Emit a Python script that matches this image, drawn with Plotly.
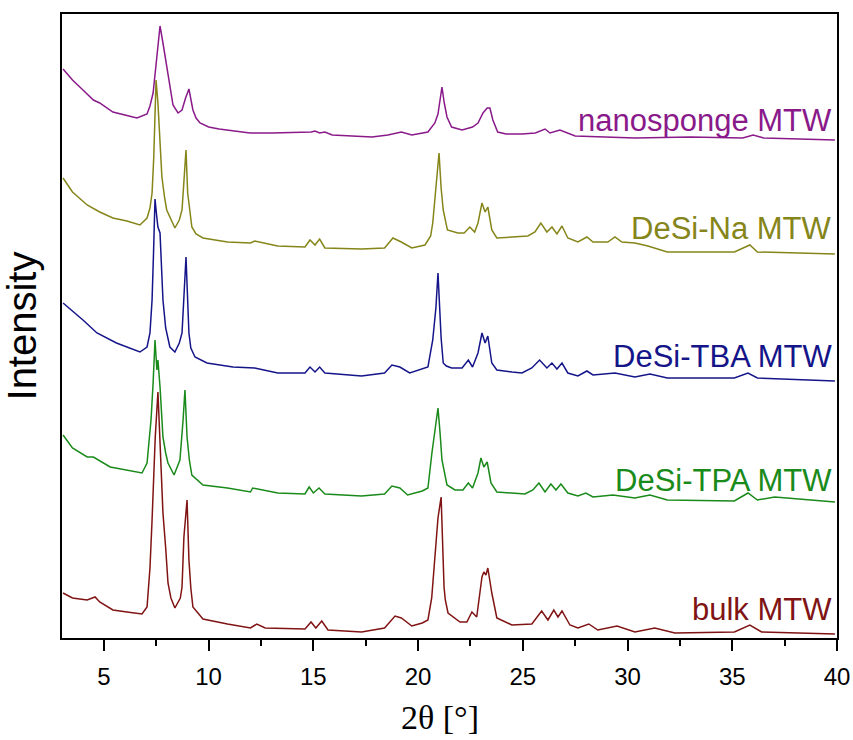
import plotly.graph_objects as go

# ---- data (2theta in degrees, intensity in arbitrary units incl. stacking offset) ----
x_nano = [3.05, 3.5, 4.0, 4.5, 4.8, 5.43, 6.0, 6.58, 7.06, 7.2, 7.35, 7.55, 7.68, 7.82, 7.95, 8.1, 8.3, 8.54,
          8.73, 8.9, 9.06, 9.25, 9.4, 9.59, 10.0, 10.5, 11.97, 13.0, 14.9, 15.08, 15.3, 15.55, 15.9, 17.8,
          18.56, 19.2, 19.7, 20.47, 20.8, 20.95, 21.04, 21.14, 21.25, 21.38, 21.6, 22.1, 22.6, 22.86, 23.1,
          23.3, 23.43, 23.57, 23.8, 24.2, 24.96, 25.6, 26.06, 26.3, 26.77, 27.1, 27.5, 30.35, 33.0, 35.5,
          36.0, 36.5, 39.9]
y_nano = [569, 558, 548, 538, 535, 526, 523, 520, 524, 532, 545, 585, 612, 595, 578, 555, 533, 525,
          528, 540, 549, 528, 520, 515, 511, 509, 505, 505, 506, 507, 505, 506, 503, 501,
          503, 506, 503, 506, 515, 524, 535, 551, 535, 521, 511, 508, 511, 515, 525,
          530, 530, 518, 506, 504, 504, 505, 509, 505, 508, 505, 502, 500, 501, 500,
          503, 500, 498]

x_na = [3.05, 3.5, 4.2, 4.8, 5.43, 6.1, 6.72, 7.06, 7.2, 7.3, 7.38, 7.44, 7.49, 7.58, 7.68, 7.77, 7.9, 8.0,
        8.39, 8.6, 8.73, 8.82, 8.92, 9.0, 9.1, 9.2, 9.4, 9.73, 10.9, 12.0, 12.2, 13.3, 14.6, 14.84, 15.08,
        15.3, 15.55, 17.3, 18.4, 18.8, 19.2, 19.7, 20.33, 20.6, 20.7, 20.85, 21.0, 21.1, 21.2, 21.4, 21.9,
        22.2, 22.47, 22.7, 22.86, 23.05, 23.2, 23.33, 23.52, 23.76, 24.48, 25.24, 25.58, 25.86, 26.15,
        26.39, 26.63, 26.87, 27.15, 27.63, 28.06, 28.35, 29.06, 29.4, 29.73, 30.35, 30.97, 31.9, 35.1,
        35.84, 36.2, 39.9]
y_na = [460, 446, 433, 426, 420, 417, 413, 420, 430, 445, 480, 528, 558, 535, 495, 461, 440, 428,
        410, 418, 428, 461, 488, 445, 425, 411, 404, 400, 396, 395, 397, 392, 391, 398, 393,
        399, 390, 389, 390, 400, 396, 390, 393, 402, 415, 450, 485, 450, 428, 408, 405,
        405, 411, 406, 415, 435, 426, 431, 408, 400, 401, 402, 406, 415, 406,
        411, 404, 412, 400, 396, 401, 396, 396, 401, 396, 395, 392, 386, 386,
        393, 386, 384]

x_tba = [3.05, 3.5, 4.0, 4.67, 5.6, 6.72, 7.06, 7.2, 7.3, 7.37, 7.44, 7.53, 7.58, 7.68, 7.82, 7.95, 8.15,
         8.39, 8.6, 8.73, 8.84, 8.92, 9.06, 9.15, 9.35, 9.92, 11.16, 12.2, 13.3, 14.6, 14.84, 15.08, 15.3,
         15.55, 17.3, 18.4, 18.75, 19.13, 19.6, 20.2, 20.47, 20.7, 20.85, 20.95, 21.04, 21.1, 21.2, 21.35,
         21.6, 22.1, 22.4, 22.6, 22.86, 23.05, 23.2, 23.33, 23.52, 23.76, 24.48, 24.96, 25.43, 25.8, 26.15,
         26.39, 26.63, 26.87, 27.15, 27.63, 28.06, 28.35, 29.4, 30.35, 31.07, 31.9, 35.1, 35.75, 36.2, 39.9]
y_tba = [335, 327, 318, 305, 295, 286, 291, 305, 338, 385, 439, 420, 411, 405, 338, 310, 291,
         286, 295, 305, 350, 381, 305, 290, 281, 275, 271, 270, 265, 265, 271, 266, 271,
         265, 262, 265, 273, 271, 265, 269, 271, 298, 330, 365, 320, 300, 275, 272,
         270, 270, 278, 271, 285, 305, 295, 302, 275, 268, 266, 265, 270, 278, 270,
         275, 269, 275, 265, 262, 267, 263, 265, 261, 264, 260, 260, 265, 260, 257]

x_tpa = [3.05, 3.5, 4.2, 4.5, 5.3, 6.1, 6.82, 7.06, 7.25, 7.35, 7.44, 7.53, 7.58, 7.68, 7.82, 7.95, 8.06,
         8.35, 8.63, 8.78, 8.87, 8.97, 9.08, 9.2, 9.73, 10.9, 12.0, 12.1, 13.3, 14.6, 14.8, 15.0, 15.27,
         15.55, 17.3, 18.4, 18.75, 19.13, 19.5, 20.2, 20.47, 20.66, 20.8, 20.95, 21.05, 21.14, 21.38,
         21.76, 22.14, 22.4, 22.6, 22.86, 23.0, 23.14, 23.3, 23.48, 23.76, 24.48, 25.1, 25.48, 25.77,
         26.06, 26.34, 26.58, 26.82, 27.15, 27.63, 28.01, 28.35, 29.3, 30.35, 31.07, 31.9, 35.1, 35.75,
         36.2, 37.03, 39.9]
y_tpa = [203, 190, 181, 181, 171, 168, 165, 175, 218, 255, 298, 268, 278, 251, 201, 185, 175,
         163, 178, 218, 248, 201, 178, 163, 153, 150, 146, 150, 145, 144, 151, 145, 150,
         144, 142, 144, 152, 150, 143, 147, 150, 185, 205, 230, 205, 178, 153,
         148, 148, 155, 150, 165, 180, 171, 176, 155, 146, 145, 144, 148, 155,
         146, 154, 148, 154, 145, 142, 145, 141, 143, 140, 143, 138, 137, 145,
         138, 141, 136]

x_bulk = [3.05, 3.5, 4.2, 4.58, 4.8, 5.43, 6.1, 6.82, 7.06, 7.2, 7.3, 7.45, 7.58, 7.68, 7.82, 7.95, 8.06,
          8.2, 8.39, 8.65, 8.73, 8.82, 8.97, 9.06, 9.15, 9.25, 9.73, 10.9, 12.0, 12.3, 12.7, 14.6, 14.89,
          15.12, 15.4, 15.7, 17.3, 18.4, 18.9, 19.2, 19.7, 20.2, 20.47, 20.65, 20.8, 20.95, 21.1, 21.24,
          21.3, 21.43, 22.0, 22.33, 22.57, 22.8, 23.05, 23.14, 23.24, 23.33, 23.52, 23.76, 24.48, 25.43,
          25.9, 26.2, 26.48, 26.68, 26.87, 27.25, 27.63, 28.15, 28.58, 29.5, 30.35, 31.3, 32.26, 35.1,
          35.84, 36.4, 39.9]
y_bulk = [45, 40, 38, 41, 36, 28, 26, 24, 31, 70, 118, 200, 246, 191, 125, 90, 55,
          40, 30, 40, 51, 101, 138, 78, 50, 31, 19, 14, 10, 14, 10, 9, 16,
          10, 17, 8, 6, 10, 22, 20, 12, 15, 18, 40, 85, 120, 141, 51,
          38, 25, 16, 16, 26, 21, 61, 66, 63, 70, 45, 20, 13, 14,
          27, 18, 28, 21, 27, 13, 10, 14, 8, 12, 6, 10, 5, 6,
          13, 6, 4]

series_names = ["nanosponge MTW", "DeSi-Na MTW", "DeSi-TBA MTW", "DeSi-TPA MTW", "bulk MTW"]
label_y = [518, 410, 282, 158, 29]
tick_vals = [5, 10, 15, 20, 25, 30, 35, 40]
tick_text = ["5", "10", "15", "20", "25", "30", "35", "40"]

colors = ["#8A1A8A", "#85851A", "#15158A", "#1A8A1A", "#801414"]
xs = [x_nano, x_na, x_tba, x_tpa, x_bulk]
ys = [y_nano, y_na, y_tba, y_tpa, y_bulk]

fig = go.Figure()
for name, x, y, c in zip(series_names, xs, ys, colors):
    fig.add_trace(go.Scatter(x=x, y=y, mode="lines", name=name,
                             line=dict(color=c, width=1.5), showlegend=False))

for name, ly, c in zip(series_names, label_y, colors):
    fig.add_annotation(x=1.0, xref="paper", y=ly, yref="y", text=name, showarrow=False,
                       xanchor="right", yanchor="middle", xshift=-3,
                       font=dict(family="Arial, Liberation Sans", size=31, color=c))

# x-axis title placed as annotation (slightly left of centre as in the original)
fig.add_annotation(x=0.488, xref="paper", y=-0.127, yref="paper", text="2θ [°]", showarrow=False,
                   xanchor="center", yanchor="middle",
                   font=dict(family="Times New Roman, Liberation Serif", size=34, color="black"))

fig.update_layout(
    width=853, height=740,
    margin=dict(l=62, r=16, t=14, b=102),
    paper_bgcolor="white", plot_bgcolor="white",
    font=dict(family="Arial, Liberation Sans", color="black"),
)
fig.update_xaxes(
    range=[3, 40], tickvals=tick_vals, ticktext=tick_text, automargin=False,
    ticks="outside", ticklen=11, tickwidth=2, tickcolor="black",
    minor=dict(ticks="outside", ticklen=6, tickwidth=2, tickcolor="black",
               tickvals=[7.5, 12.5, 17.5, 22.5, 27.5, 32.5, 37.5]),
    showline=True, linewidth=2, linecolor="black", mirror=True,
    showgrid=False, zeroline=False,
    tickfont=dict(size=24, family="Arial, Liberation Sans"),
    ticklabelstandoff=5,
)
fig.update_yaxes(
    range=[0, 624], showticklabels=False, ticks="", automargin=False,
    showline=True, linewidth=2, linecolor="black", mirror=True,
    showgrid=False, zeroline=False,
    title=dict(text="Intensity", font=dict(size=40, family="Arial, Liberation Sans"), standoff=11),
)

fig.write_html("out.html")
